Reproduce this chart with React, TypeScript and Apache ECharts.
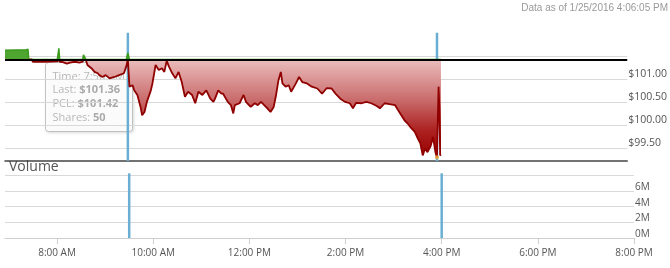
import React, { useEffect, useRef } from "react";
import * as echarts from "echarts";

// ---- data ----
const TITLE = "Data as of 1/25/2016 4:06:05 PM";
const PCL = 101.42;
const SESSION_MARKS = [570, 960]; // 9:30 AM, 4:00 PM (minutes after midnight)
const TIME_MIN = 415;
const TIME_MAX = 1200;
const TIME_TICKS = [480, 600, 720, 840, 960, 1080, 1200];
const PRICE_MIN = 99.22;
const PRICE_MAX = 102.0;
const PRICE_GRID = [99.5, 100, 100.5, 101, 101.5];
const PRICE_LABELS = [99.5, 100, 100.5, 101];
const VOLUME_MAX = 8;
const VOLUME_TOP = 8.25;
const VOLUME_LABELS = [0, 2, 4, 6];
const LAST_POINT = [960, 99.3];

const TIP_TIME = "7:56 AM";
const TIP_LAST = 101.36;
const TIP_PCL = 101.42;
const TIP_SHARES = 50;

const priceTimes = [
  415, 442, 444, 445, 449, 450, 465, 481, 483, 484, 488, 493, 497, 503, 509, 513, 514, 517, 519, 524,
  528, 532, 534, 538, 542, 547, 553, 559, 565, 568, 570, 572, 576, 578, 582, 586, 588, 591, 594, 599,
  601, 605, 609, 613, 616, 619, 622, 626, 630, 634, 638, 642, 646, 651, 655, 659, 664, 669, 674, 678,
  680, 684, 688, 690, 696, 700, 703, 705, 711, 716, 719, 725, 730, 734, 738, 742, 746, 750, 754, 757,
  760, 763, 765, 769, 773, 776, 782, 786, 790, 796, 802, 809, 815, 821, 827, 832, 838, 844, 850, 854,
  858, 865, 871, 877, 884, 888, 894, 900, 907, 911, 915, 919, 923, 927, 932, 936, 939, 942, 945, 948,
  952, 955, 958, 960, 962, 963, 964, 965,
];
const priceValues = [
  101.62, 101.63, 101.64, 101.42, 101.42, 101.37, 101.37, 101.38, 101.66, 101.37, 101.36, 101.33, 101.35, 101.37, 101.35, 101.37, 101.52, 101.41, 101.3, 101.23,
  101.15, 101.12, 101.08, 101.04, 101.08, 101.01, 101.04, 101.08, 101.12, 101.27, 101.56, 100.83, 100.86, 100.75, 100.65, 100.39, 100.21, 100.28, 100.5, 100.75,
  100.9, 101.3, 101.19, 101.23, 101.15, 101.39, 101.26, 101.12, 101.01, 101.15, 100.93, 100.61, 100.72, 100.65, 100.47, 100.72, 100.65, 100.75, 100.57, 100.5,
  100.57, 100.75, 100.68, 100.68, 100.5, 100.43, 100.25, 100.43, 100.47, 100.65, 100.5, 100.39, 100.47, 100.43, 100.5, 100.43, 100.36, 100.28, 100.39, 100.65,
  100.97, 101.15, 100.9, 100.83, 100.86, 100.72, 100.9, 101.04, 100.93, 100.9, 100.83, 100.79, 100.68, 100.8, 100.79, 100.68, 100.57, 100.5, 100.47, 100.36,
  100.48, 100.47, 100.5, 100.47, 100.41, 100.36, 100.47, 100.45, 100.43, 100.32, 100.21, 100.1, 100.03, 99.94, 99.85, 99.7, 99.6, 99.34, 99.49, 99.41,
  99.54, 99.74, 99.41, 99.3, 100.83, 100.39, 99.34, 99.36,
];

const FONT = "'Open Sans', sans-serif";

function fmtTime(m: number): string {
  const h = Math.floor(m / 60);
  const mm = Math.round(m % 60);
  const ampm = h >= 12 && h < 24 ? "PM" : "AM";
  const h12 = h % 12 === 0 ? 12 : h % 12;
  return `${h12}:${String(mm).padStart(2, "0")} ${ampm}`;
}

export default function App() {
  const ref = useRef<HTMLDivElement>(null);

  useEffect(() => {
    if (!ref.current) return;
    const chart = echarts.init(ref.current, undefined, { renderer: "svg" });

    const redData = priceTimes.map((t, i) => [t, Math.min(priceValues[i], PCL)]);
    const greenData = priceTimes.map((t, i) => [t, Math.max(priceValues[i], PCL)]);

    const blueStyle = { color: "#6aaed3", width: 2.5 };

    const sessionSeries: any[] = [];
    SESSION_MARKS.forEach((t) => {
      sessionSeries.push({
        type: "line",
        xAxisIndex: 0,
        yAxisIndex: 0,
        data: [
          [t, PRICE_MIN],
          [t, PRICE_MAX],
        ],
        showSymbol: false,
        silent: true,
        lineStyle: blueStyle,
        z: 1,
      });
      sessionSeries.push({
        type: "line",
        xAxisIndex: 1,
        yAxisIndex: 1,
        data: [
          [t, 0],
          [t, VOLUME_TOP],
        ],
        clip: false,
        showSymbol: false,
        silent: true,
        lineStyle: blueStyle,
        z: 1,
      });
    });

    const option: any = {
      animation: false,
      textStyle: { fontFamily: FONT },
      title: {
        text: TITLE,
        right: 2,
        top: 2,
        padding: 0,
        textStyle: {
          fontSize: 10,
          color: "#9a9a9a",
          fontWeight: "normal",
          fontFamily: "'Liberation Sans', Arial, sans-serif",
        },
      },
      grid: [
        { left: 5, right: 36, top: 32.7, height: 128.2 },
        { left: 5, right: 36, top: 175.3, height: 62.7 },
      ],
      xAxis: [
        {
          type: "value",
          gridIndex: 0,
          min: TIME_MIN,
          max: TIME_MAX,
          axisLine: { show: true, lineStyle: { color: "#444", width: 1.5 } },
          axisTick: { show: false },
          axisLabel: { show: false },
          splitLine: { show: false },
        },
        {
          type: "value",
          gridIndex: 1,
          min: TIME_MIN,
          max: TIME_MAX,
          axisLine: { show: true, lineStyle: { color: "#cfcfcf", width: 1 } },
          axisTick: {
            show: true,
            customValues: TIME_TICKS,
            length: 6,
            lineStyle: { color: "#cfcfcf" },
          },
          axisLabel: {
            customValues: TIME_TICKS,
            formatter: (v: number) => fmtTime(v),
            color: "#555",
            fontSize: 10,
            fontFamily: FONT,
            margin: 9,
          },
          splitLine: { show: false },
        },
      ],
      yAxis: [
        {
          type: "value",
          gridIndex: 0,
          position: "right",
          min: PRICE_MIN,
          max: PRICE_MAX,
          axisLine: { show: false },
          axisTick: { show: false, customValues: PRICE_GRID },
          splitLine: { show: true, lineStyle: { color: "#d9d9d9", width: 1 } },
          axisLabel: {
            customValues: PRICE_LABELS,
            formatter: (v: number) => "$" + v.toFixed(2),
            verticalAlign: "bottom",
            margin: 1,
            color: "#555",
            fontSize: 10.5,
            fontFamily: FONT,
          },
        },
        {
          type: "value",
          gridIndex: 1,
          position: "right",
          min: 0,
          max: VOLUME_MAX,
          interval: 2,
          axisLine: { show: false },
          axisTick: { show: false },
          splitLine: { show: true, lineStyle: { color: "#d9d9d9", width: 1 } },
          axisLabel: {
            customValues: VOLUME_LABELS,
            formatter: (v: number) => `${v}M`,
            verticalAlign: "bottom",
            margin: 1,
            color: "#555",
            fontSize: 10,
            fontFamily: FONT,
          },
        },
      ],
      series: [
        ...sessionSeries,
        {
          name: "below",
          type: "line",
          xAxisIndex: 0,
          yAxisIndex: 0,
          data: redData,
          showSymbol: false,
          lineStyle: { color: "#900000", width: 1.8 },
          areaStyle: {
            origin: PCL,
            opacity: 1,
            color: new echarts.graphic.LinearGradient(0, 0, 0, 1, [
              { offset: 0, color: "#ebbdbd" },
              { offset: 0.42, color: "#c96a6a" },
              { offset: 0.72, color: "#ad2222" },
              { offset: 1, color: "#980000" },
            ]),
          },
          z: 2,
          markLine: {
            silent: true,
            symbol: ["none", "none"],
            label: { show: false },
            lineStyle: { color: "#000", width: 2, type: "solid" },
            data: [{ yAxis: PCL }],
          },
        },
        {
          name: "above",
          type: "line",
          xAxisIndex: 0,
          yAxisIndex: 0,
          data: greenData,
          showSymbol: false,
          lineStyle: { color: "#3c9a1c", width: 1.5 },
          areaStyle: { origin: PCL, opacity: 1, color: "#4ea52f" },
          z: 3,
        },
        {
          name: "last",
          type: "scatter",
          xAxisIndex: 0,
          yAxisIndex: 0,
          data: [LAST_POINT],
          symbolSize: 4,
          itemStyle: { color: "#f2a530" },
          z: 4,
        },
      ],
      graphic: [
        {
          type: "text",
          left: 9,
          top: 158.5,
          style: {
            text: "Volume",
            fontSize: 14,
            fontFamily: FONT,
            fill: "#555",
          },
        },
        {
          type: "group",
          left: 45,
          top: 62,
          z: 100,
          children: [
            {
              type: "rect",
              shape: { x: 0, y: 0, width: 87, height: 69, r: 3 },
              style: {
                fill: "rgba(255,255,255,0.72)",
                stroke: "rgba(150,150,150,0.55)",
                lineWidth: 1,
                shadowBlur: 3,
                shadowOffsetX: 1,
                shadowOffsetY: 1,
                shadowColor: "rgba(0,0,0,0.2)",
              },
            },
            ...[
              ["Time: ", TIP_TIME, false],
              ["Last: ", "$" + TIP_LAST.toFixed(2), true],
              ["PCL: ", "$" + TIP_PCL.toFixed(2), true],
              ["Shares: ", String(TIP_SHARES), true],
            ].map(([lab, val, bold], i) => ({
              type: "text",
              x: 7,
              y: 7 + i * 13.9,
              style: {
                text: `{a|${lab}}{${bold ? "b" : "a"}|${val}}`,
                rich: {
                  a: { fontSize: 11, fontFamily: FONT, fill: "#b8b8b8", color: "#b8b8b8" },
                  b: {
                    fontSize: 11,
                    fontFamily: FONT,
                    fontWeight: "bold",
                    fill: "#ababab",
                    color: "#ababab",
                  },
                },
              },
            })),
          ],
        },
      ],
    };

    chart.setOption(option);
    return () => chart.dispose();
  }, []);

  return (
    <div
      ref={ref}
      style={{ position: "fixed", left: 0, top: 0, width: 670, height: 268 }}
    />
  );
}
